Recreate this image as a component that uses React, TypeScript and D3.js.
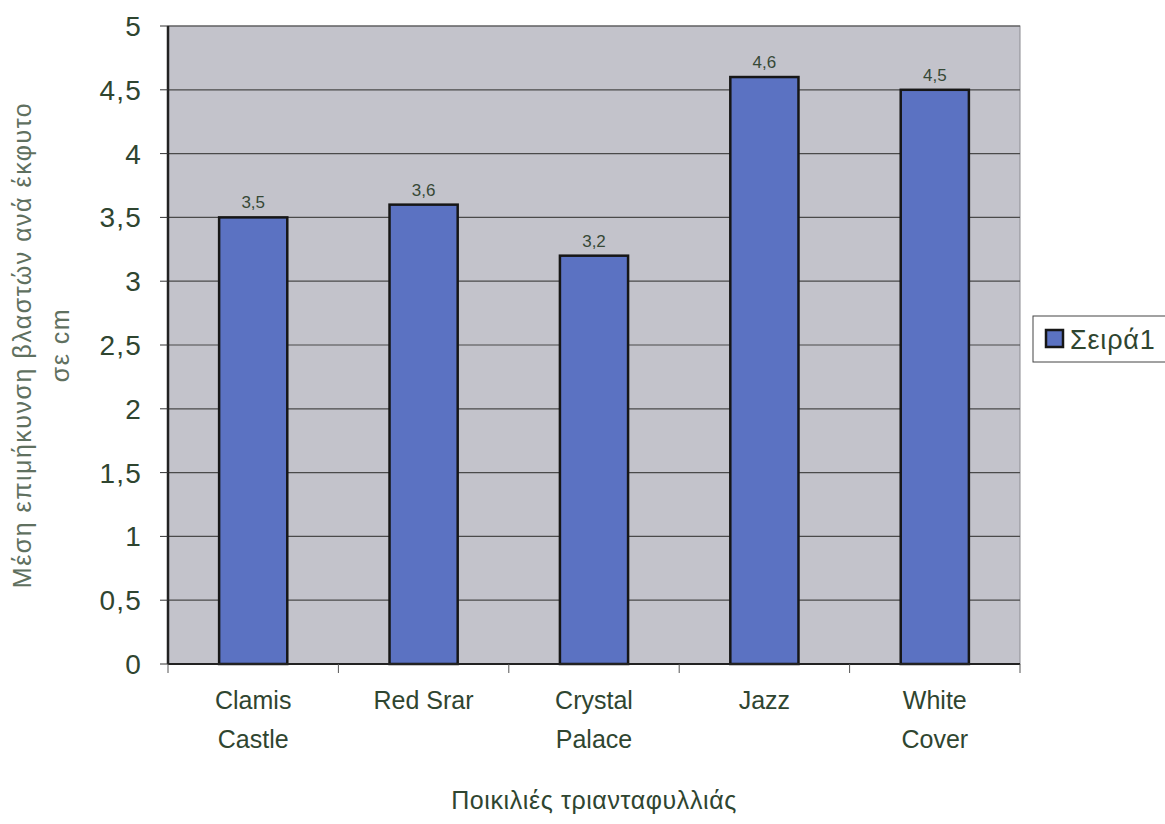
import * as d3 from "d3";

const categories: string[][] = [
  ["Clamis", "Castle"],
  ["Red Srar"],
  ["Crystal", "Palace"],
  ["Jazz"],
  ["White", "Cover"],
];
const values: number[] = [3.5, 3.6, 3.2, 4.6, 4.5];
const yTicks: number[] = [0, 0.5, 1, 1.5, 2, 2.5, 3, 3.5, 4, 4.5, 5];
const seriesName = "Σειρά1";
const yTitle = ["Μέση επιμήκυνση βλαστών ανά έκφυτο", "σε cm"];
const xTitle = "Ποικιλιές τριανταφυλλιάς";

const width = 1165;
const height = 824;
const plot = { left: 168, right: 1020, top: 26, bottom: 664 };
const textColor = "#2f4530";
const barColor = "#5b72c2";
const font = "'Liberation Sans', Arial, sans-serif";
const fmt = (v: number) => String(v).replace(".", ",");

export default function App() {
  const x = d3
    .scaleBand<number>()
    .domain(d3.range(values.length))
    .range([plot.left, plot.right])
    .paddingInner(0.6)
    .paddingOuter(0.3);
  const step = (plot.right - plot.left) / values.length;
  const y = d3.scaleLinear().domain([0, 5]).range([plot.bottom, plot.top]);
  const cx = (i: number) => (x(i) ?? 0) + x.bandwidth() / 2;

  return (
    <svg
      width={width}
      height={height}
      style={{ position: "absolute", left: 0, top: 0, background: "white" }}
      fontFamily={font}
    >
      {/* plot area */}
      <rect
        x={plot.left}
        y={plot.top}
        width={plot.right - plot.left}
        height={plot.bottom - plot.top}
        fill="#c3c3cb"
        stroke="#8a8a90"
        strokeWidth={1}
      />
      {/* gridlines */}
      {yTicks.slice(1).map((t) => (
        <line
          key={`g${t}`}
          x1={plot.left}
          x2={plot.right}
          y1={y(t)}
          y2={y(t)}
          stroke="#4a4a4a"
          strokeWidth={1.2}
        />
      ))}
      {/* bars */}
      {values.map((v, i) => (
        <rect
          key={`b${i}`}
          x={x(i)}
          y={y(v)}
          width={x.bandwidth()}
          height={y(0) - y(v)}
          fill={barColor}
          stroke="#161616"
          strokeWidth={2.5}
        />
      ))}
      {/* value labels */}
      {values.map((v, i) => (
        <text
          key={`v${i}`}
          x={cx(i)}
          y={y(v) - 9}
          textAnchor="middle"
          fontSize={17}
          fill="#364836"
        >
          {fmt(v)}
        </text>
      ))}
      {/* axes */}
      <line x1={plot.left} x2={plot.left} y1={plot.top} y2={plot.bottom} stroke="#222" strokeWidth={2.5} />
      <line x1={plot.left} x2={plot.right} y1={plot.bottom} y2={plot.bottom} stroke="#222" strokeWidth={2} />
      {yTicks.map((t) => (
        <g key={`yt${t}`}>
          <line x1={plot.left - 8} x2={plot.left} y1={y(t)} y2={y(t)} stroke="#333" />
          <text
            x={142}
            y={y(t)}
            dy="0.36em"
            textAnchor="end"
            fontSize={28}
            letterSpacing={1.2}
            fill={textColor}
          >
            {fmt(t)}
          </text>
        </g>
      ))}
      {d3.range(values.length + 1).map((i) => (
        <line
          key={`xt${i}`}
          x1={plot.left + i * step}
          x2={plot.left + i * step}
          y1={plot.bottom}
          y2={plot.bottom + 9}
          stroke="#555"
        />
      ))}
      {categories.map((lines, i) => (
        <text
          key={`c${i}`}
          x={cx(i)}
          y={709}
          textAnchor="middle"
          fontSize={25}
          fill={textColor}
        >
          {lines.map((l, j) => (
            <tspan key={j} x={cx(i)} dy={j === 0 ? 0 : 39}>
              {l}
            </tspan>
          ))}
        </text>
      ))}
      {/* axis titles */}
      <text
        x={(plot.left + plot.right) / 2}
        y={809}
        textAnchor="middle"
        fontSize={25}
        letterSpacing={0.6}
        fill={textColor}
      >
        {xTitle}
      </text>
      <text
        transform={`translate(31,${(plot.top + plot.bottom) / 2}) rotate(-90)`}
        textAnchor="middle"
        fontSize={25}
        letterSpacing={1.5}
        fill="#5f7060"
      >
        <tspan x={0} dy={0}>{yTitle[0]}</tspan>
        <tspan x={0} dy={38}>{yTitle[1]}</tspan>
      </text>
      {/* legend */}
      <rect x={1033} y={316} width={140} height={46} fill="white" stroke="#444" strokeWidth={1} />
      <rect x={1046} y={330} width={17} height={17} fill={barColor} stroke="#161616" strokeWidth={2.5} />
      <text x={1070} y={349} fontSize={27} letterSpacing={0.8} fill={textColor}>
        {seriesName}
      </text>
    </svg>
  );
}
